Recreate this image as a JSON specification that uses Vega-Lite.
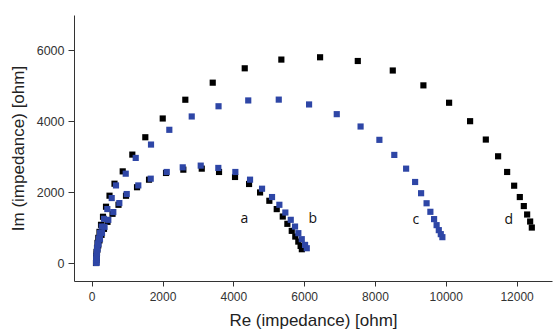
{
  "$schema": "https://vega.github.io/schema/vega-lite/v6.json",
  "width": 478,
  "height": 266,
  "autosize": {"type": "none"},
  "padding": {"left": 74, "top": 15, "right": 1, "bottom": 48},
  "background": "white",
  "config": {"view": {"stroke": null}, "font": "Liberation Sans"},
  "layer": [
    {
      "data": {"values": [
        {"s":"a","re":130,"im":37},{"s":"a","re":136,"im":150},{"s":"a","re":144,"im":263},{"s":"a","re":158,"im":376},{"s":"a","re":186,"im":504},{"s":"a","re":220,"im":645},{"s":"a","re":277,"im":801},{"s":"a","re":347,"im":970},{"s":"a","re":446,"im":1168},{"s":"a","re":588,"im":1395},{"s":"a","re":757,"im":1649},{"s":"a","re":969,"im":1904},{"s":"a","re":1280,"im":2144},{"s":"a","re":1619,"im":2357},{"s":"a","re":2099,"im":2546},{"s":"a","re":2588,"im":2639},{"s":"a","re":3108,"im":2668},{"s":"a","re":3596,"im":2574},{"s":"a","re":4048,"im":2433},{"s":"a","re":4444,"im":2235},{"s":"a","re":4755,"im":1997},{"s":"a","re":5017,"im":1762},{"s":"a","re":5226,"im":1527},{"s":"a","re":5396,"im":1318},{"s":"a","re":5526,"im":1112},{"s":"a","re":5650,"im":914},{"s":"a","re":5750,"im":753},{"s":"a","re":5835,"im":611},{"s":"a","re":5900,"im":489},{"s":"a","re":5935,"im":396},
        {"s":"d","re":121,"im":8},{"s":"d","re":127,"im":93},{"s":"d","re":130,"im":207},{"s":"d","re":138,"im":320},{"s":"d","re":150,"im":433},{"s":"d","re":164,"im":574},{"s":"d","re":186,"im":716},{"s":"d","re":220,"im":885},{"s":"d","re":263,"im":1084},{"s":"d","re":319,"im":1311},{"s":"d","re":404,"im":1594},{"s":"d","re":503,"im":1905},{"s":"d","re":644,"im":2243},{"s":"d","re":876,"im":2591},{"s":"d","re":1147,"im":3064},{"s":"d","re":1514,"im":3553},{"s":"d","re":2006,"im":4082},{"s":"d","re":2644,"im":4611},{"s":"d","re":3418,"im":5092},{"s":"d","re":4322,"im":5497},{"s":"d","re":5356,"im":5743},{"s":"d","re":6450,"im":5808},{"s":"d","re":7515,"im":5703},{"s":"d","re":8503,"im":5435},{"s":"d","re":9368,"im":5016},{"s":"d","re":10094,"im":4526},{"s":"d","re":10687,"im":4006},{"s":"d","re":11131,"im":3488},{"s":"d","re":11478,"im":3016},{"s":"d","re":11733,"im":2574},{"s":"d","re":11931,"im":2187},{"s":"d","re":12091,"im":1867},{"s":"d","re":12204,"im":1613},{"s":"d","re":12298,"im":1375},{"s":"d","re":12383,"im":1177},{"s":"d","re":12430,"im":1007},
        {"s":"b","re":136,"im":8},{"s":"b","re":136,"im":93},{"s":"b","re":141,"im":178},{"s":"b","re":150,"im":291},{"s":"b","re":164,"im":405},{"s":"b","re":192,"im":546},{"s":"b","re":234,"im":688},{"s":"b","re":291,"im":857},{"s":"b","re":362,"im":1027},{"s":"b","re":469,"im":1225},{"s":"b","re":610,"im":1443},{"s":"b","re":780,"im":1697},{"s":"b","re":989,"im":1952},{"s":"b","re":1316,"im":2195},{"s":"b","re":1667,"im":2385},{"s":"b","re":2119,"im":2574},{"s":"b","re":2571,"im":2705},{"s":"b","re":3079,"im":2753},{"s":"b","re":3576,"im":2688},{"s":"b","re":4057,"im":2574},{"s":"b","re":4472,"im":2357},{"s":"b","re":4811,"im":2102},{"s":"b","re":5093,"im":1867},{"s":"b","re":5300,"im":1649},{"s":"b","re":5469,"im":1431},{"s":"b","re":5622,"im":1225},{"s":"b","re":5743,"im":1035},{"s":"b","re":5836,"im":849},{"s":"b","re":5933,"im":679},{"s":"b","re":6026,"im":518},{"s":"b","re":6074,"im":424},
        {"s":"c","re":127,"im":23},{"s":"c","re":130,"im":108},{"s":"c","re":136,"im":207},{"s":"c","re":144,"im":320},{"s":"c","re":155,"im":433},{"s":"c","re":172,"im":560},{"s":"c","re":201,"im":702},{"s":"c","re":234,"im":857},{"s":"c","re":283,"im":1035},{"s":"c","re":347,"im":1253},{"s":"c","re":441,"im":1528},{"s":"c","re":565,"im":1839},{"s":"c","re":686,"im":2195},{"s":"c","re":961,"im":2526},{"s":"c","re":1243,"im":2970},{"s":"c","re":1675,"im":3347},{"s":"c","re":2192,"im":3763},{"s":"c","re":2825,"im":4139},{"s":"c","re":3582,"im":4427},{"s":"c","re":4421,"im":4591},{"s":"c","re":5283,"im":4614},{"s":"c","re":6139,"im":4478},{"s":"c","re":6921,"im":4204},{"s":"c","re":7594,"im":3856},{"s":"c","re":8125,"im":3480},{"s":"c","re":8546,"im":3055},{"s":"c","re":8880,"im":2668},{"s":"c","re":9134,"im":2292},{"s":"c","re":9303,"im":1975},{"s":"c","re":9458,"im":1692},{"s":"c","re":9565,"im":1451},{"s":"c","re":9670,"im":1245},{"s":"c","re":9741,"im":1075},{"s":"c","re":9803,"im":934},{"s":"c","re":9859,"im":821},{"s":"c","re":9904,"im":736}
      ]},
      "mark": {"type": "point", "shape": "square", "filled": true, "size": 38, "opacity": 1},
      "encoding": {
        "x": {"field": "re", "type": "quantitative",
          "scale": {"domain": [-500, 13000], "nice": false, "zero": false},
          "axis": {"values": [0,1000,2000,3000,4000,5000,6000,7000,8000,9000,10000,11000,12000,13000],
            "format": "d",
            "labelExpr": "datum.value % 2000 === 0 && datum.value <= 12000 ? datum.label : ''",
            "grid": false, "domainColor": "#333", "tickColor": "#333",
            "tickSize": {"condition": {"test": "datum.value % 2000 === 0", "value": 5}, "value": 3},
            "labelPadding": 5, "labelFontSize": 12, "labelColor": "#333", "labelFont": "Liberation Sans",
            "title": "Re (impedance) [ohm]", "titleFontSize": 17, "titleFontWeight": "normal", "titleColor": "#222",
            "titleFont": "Liberation Sans", "titleBaseline": "alphabetic", "titleY": 44}},
        "y": {"field": "im", "type": "quantitative",
          "scale": {"domain": [-500, 7000], "nice": false, "zero": false},
          "axis": {"values": [0,1000,2000,3000,4000,5000,6000,7000],
            "format": "d",
            "labelExpr": "datum.value % 2000 === 0 ? datum.label : ''",
            "grid": false, "domainColor": "#333", "tickColor": "#333",
            "tickSize": {"condition": {"test": "datum.value % 2000 === 0", "value": 6}, "value": 3},
            "labelPadding": 4, "labelFontSize": 12.5, "labelColor": "#333", "labelFont": "Liberation Sans",
            "title": "Im (impedance) [ohm]", "titleFontSize": 17, "titleFontWeight": "normal", "titleColor": "#222",
            "titleFont": "Liberation Sans", "titleBaseline": "middle", "titleX": -56}},
        "color": {"field": "s", "type": "nominal",
          "scale": {"domain": ["a","b","c","d"], "range": ["#000000","#2e46a6","#2e46a6","#000000"]},
          "legend": null}
      }
    },
    {
      "data": {"values": [
        {"t":"a","re":4311,"im":1253},
        {"t":"b","re":6243,"im":1253},
        {"t":"c","re":9153,"im":1225},
        {"t":"d","re":11780,"im":1225}
      ]},
      "mark": {"type": "text", "fontSize": 14, "font": "Open Sans", "color": "#111", "align": "center", "baseline": "middle"},
      "encoding": {
        "x": {"field": "re", "type": "quantitative"},
        "y": {"field": "im", "type": "quantitative"},
        "text": {"field": "t"}
      }
    }
  ]
}
